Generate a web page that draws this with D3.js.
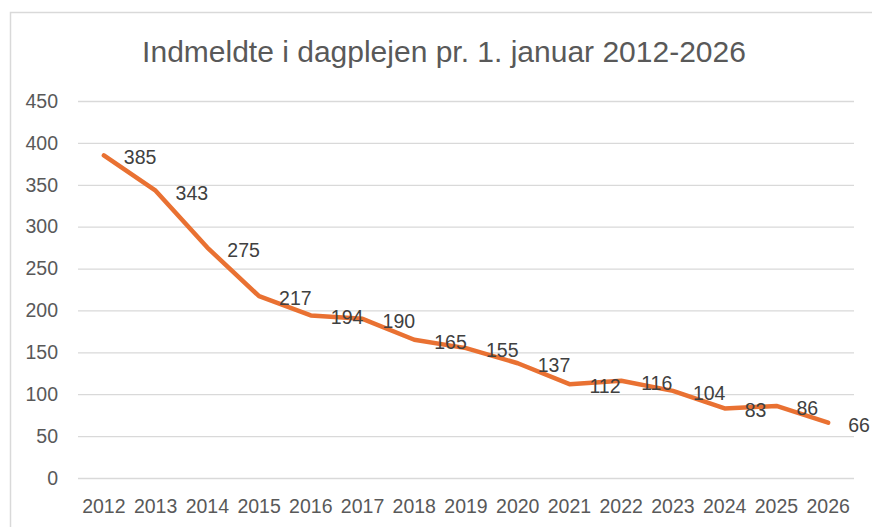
<!DOCTYPE html>
<html><head><meta charset="utf-8">
<script src="https://cdn.jsdelivr.net/npm/d3@7"></script>
<style>body{margin:0;background:#fff}svg{display:block}</style>
</head><body>
<script>
const years = ["2012","2013","2014","2015","2016","2017","2018","2019","2020","2021","2022","2023","2024","2025","2026"];
const values = [385,343,275,217,194,190,165,155,137,112,116,104,83,86,66];
const yTicks = [0,50,100,150,200,250,300,350,400,450];
const title = "Indmeldte i dagplejen pr. 1. januar 2012-2026";

const W = 872, H = 527;
const svg = d3.select("body").append("svg").attr("width", W).attr("height", H);
const font = "'Liberation Sans', Arial, sans-serif";
const fs = 19.5;

svg.append("rect").attr("x", 10.5).attr("y", 12.5).attr("width", 880).attr("height", 540)
  .attr("fill", "#fff").attr("stroke", "#d9d9d9").attr("stroke-width", 1.5);

svg.append("text").attr("x", 444).attr("y", 62).attr("text-anchor", "middle")
  .attr("font-family", font).attr("font-size", 30).attr("fill", "#595959").text(title);

const x = d3.scaleBand().domain(years).range([78, 854]);
const y = d3.scaleLinear().domain([0, 450]).range([478, 101]);

const yAxis = svg.append("g").attr("transform", "translate(78,0)")
  .call(d3.axisLeft(y).tickValues(yTicks).tickSize(-776).tickPadding(20));
yAxis.select(".domain").remove();
yAxis.selectAll(".tick line").attr("stroke", "#d9d9d9").attr("stroke-width", 1.3);
yAxis.selectAll(".tick text").attr("font-family", font).attr("font-size", fs).attr("fill", "#595959");

const xAxis = svg.append("g").attr("transform", "translate(0,478)")
  .call(d3.axisBottom(x).tickSize(0).tickPadding(0));
xAxis.select(".domain").remove();
xAxis.selectAll(".tick text").attr("font-family", font).attr("font-size", fs).attr("fill", "#595959")
  .attr("y", 35).attr("dy", 0);

const pts = years.map((yr, i) => ({yr, v: values[i]}));
const line = d3.line().x(d => x(d.yr) + x.bandwidth()/2).y(d => y(d.v));
svg.append("path").datum(pts).attr("d", line).attr("fill", "none")
  .attr("stroke", "#E97132").attr("stroke-width", 4.5).attr("stroke-linejoin", "round").attr("stroke-linecap", "round");

svg.append("g").selectAll("text").data(pts).join("text")
  .attr("x", d => x(d.yr) + x.bandwidth()/2 + 20)
  .attr("y", d => y(d.v) + 9)
  .attr("font-family", font).attr("font-size", fs).attr("fill", "#404040")
  .text(d => d.v);
</script>
</body></html>
